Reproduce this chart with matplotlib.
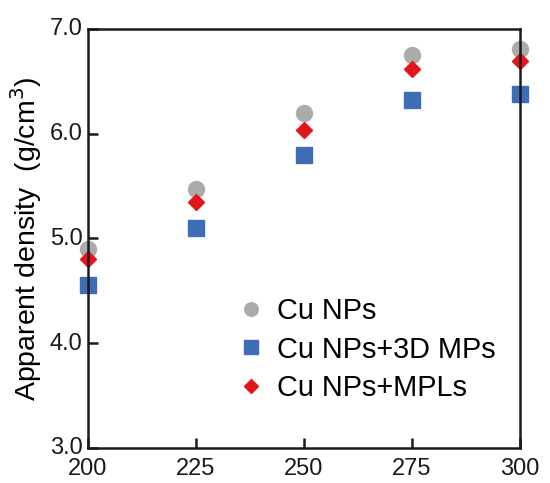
import matplotlib
matplotlib.use('Agg')
import matplotlib.pyplot as plt
import matplotlib.transforms as mtransforms

plt.rcParams['font.family'] = ['Liberation Sans', 'DejaVu Sans']

# sintering temperature (x) and apparent density (y)
temps = [200, 225, 250, 275, 300]
cu_nps = [4.90, 5.47, 6.20, 6.75, 6.81]
cu_nps_3d = [4.56, 5.10, 5.80, 6.32, 6.38]
cu_nps_mpl = [4.80, 5.35, 6.04, 6.62, 6.69]

labels = ['Cu NPs', 'Cu NPs+3D MPs', 'Cu NPs+MPLs']
x_ticks = [200, 225, 250, 275, 300]
y_ticks = [3.0, 4.0, 5.0, 6.0, 7.0]

fig = plt.figure(figsize=(5.5, 4.83), dpi=100)
ax = fig.add_axes([0.16, 0.0725, 0.7855, 0.8675])

ax.plot(temps, cu_nps, linestyle='none', marker='o', markersize=11.5,
        color='#ababab', label=labels[0], clip_on=False, zorder=1)
ax.plot(temps, cu_nps_3d, linestyle='none', marker='s', markersize=11.5,
        color='#3d6db5', label=labels[1], clip_on=False, zorder=1)
ax.plot(temps, cu_nps_mpl, linestyle='none', marker='D', markersize=7.8,
        color='#e0161c', label=labels[2], clip_on=False, zorder=1)

ax.set_xlim(200, 300)
ax.set_ylim(3.0, 7.0)
ax.set_xticks(x_ticks)
ax.set_yticks(y_ticks)
ax.set_yticklabels([f'{v:.1f}' for v in y_ticks])

for s in ax.spines.values():
    s.set_linewidth(1.8)
    s.set_color('#1a1a1a')
    s.set_zorder(3)

ax.tick_params(direction='in', length=7, width=1.8, labelsize=17,
               colors='#1a1a1a')
ax.tick_params(axis='x', pad=7)
ax.tick_params(axis='y', pad=4)

# y tick labels sit a touch above their ticks in the original
shift = mtransforms.ScaledTranslation(0, 2 / 100, fig.dpi_scale_trans)
for lbl in ax.get_yticklabels():
    lbl.set_transform(lbl.get_transform() + shift)

ax.set_ylabel('Apparent density  (g/cm$^3$)', fontsize=20.5, labelpad=4)

ax.legend(loc='center left', bbox_to_anchor=(0.345, 0.235), frameon=False,
          fontsize=20.8, handlelength=1.0, handletextpad=0.4, labelspacing=0.35,
          borderpad=0, borderaxespad=0, markerscale=0.85)

fig.savefig('out.png', dpi=100)
